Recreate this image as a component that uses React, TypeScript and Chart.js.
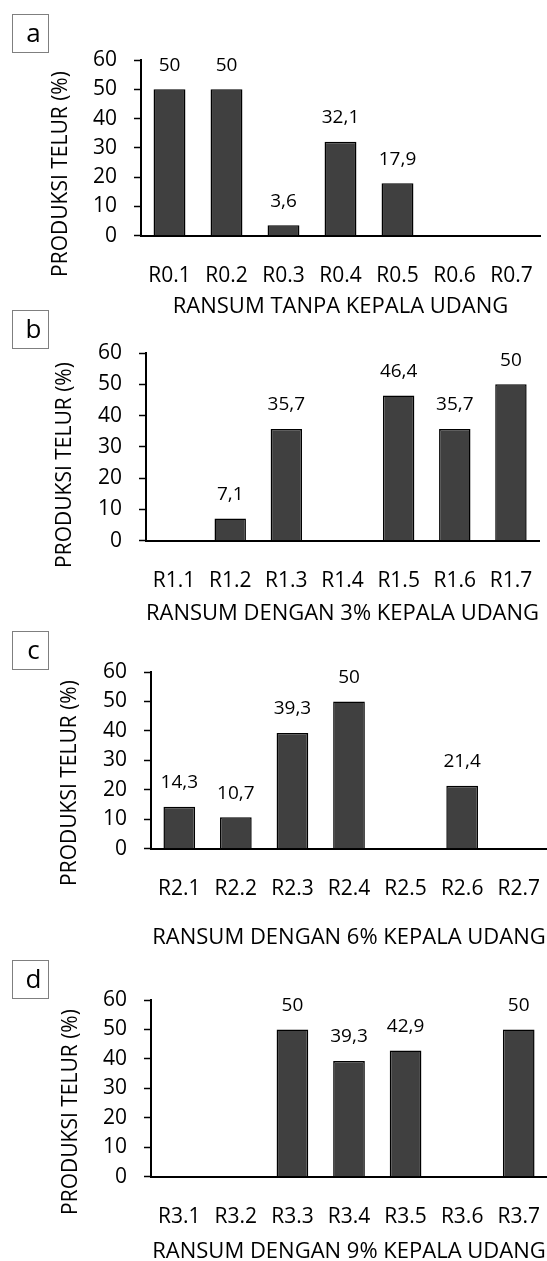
import React, { useEffect, useRef } from "react";
import { Chart, registerables } from "chart.js";

Chart.register(...registerables);

// ---------- data ----------
const categoriesA = ["R0.1", "R0.2", "R0.3", "R0.4", "R0.5", "R0.6", "R0.7"];
const valuesA = [50, 50, 3.6, 32.1, 17.9, 0, 0];

const categoriesB = ["R1.1", "R1.2", "R1.3", "R1.4", "R1.5", "R1.6", "R1.7"];
const valuesB = [0, 7.1, 35.7, 0, 46.4, 35.7, 50];

const categoriesC = ["R2.1", "R2.2", "R2.3", "R2.4", "R2.5", "R2.6", "R2.7"];
const valuesC = [14.3, 10.7, 39.3, 50, 0, 21.4, 0];

const categoriesD = ["R3.1", "R3.2", "R3.3", "R3.4", "R3.5", "R3.6", "R3.7"];
const valuesD = [0, 0, 50, 39.3, 42.9, 0, 50];

const panelLetters = ["a", "b", "c", "d"];
const xTitles = [
  "RANSUM TANPA KEPALA UDANG",
  "RANSUM DENGAN 3% KEPALA UDANG",
  "RANSUM DENGAN 6% KEPALA UDANG",
  "RANSUM DENGAN 9% KEPALA UDANG",
];
const yTitle = "PRODUKSI TELUR (%)";
const yMin = 0;
const yMax = 60;
const yStep = 10;

// ---------- layout (page pixel positions) ----------
type Layout = {
  boxTop: number;
  canvasTop: number;
  axisX: number;
  right: number;
  top: number;
  zero: number;
  labelY: number;
  titleY: number;
  yTitleX: number;
  yTitleY: number;
};

const layouts: Layout[] = [
  { boxTop: 14, canvasTop: 0, axisX: 141, right: 540, top: 60, zero: 235, labelY: 275, titleY: 306, yTitleX: 61, yTitleY: 174 },
  { boxTop: 310, canvasTop: 320, axisX: 146, right: 539, top: 353, zero: 540, labelY: 580, titleY: 613, yTitleX: 65, yTitleY: 465 },
  { boxTop: 631, canvasTop: 640, axisX: 151, right: 547, top: 672, zero: 848, labelY: 888, titleY: 937, yTitleX: 70, yTitleY: 783 },
  { boxTop: 960, canvasTop: 965, axisX: 151, right: 547, top: 1000, zero: 1176, labelY: 1216, titleY: 1251, yTitleX: 71, yTitleY: 1112 },
];

const FONT = "'Open Sans', sans-serif";
const W = 547;
const TICK_SIZE = 21;
const TITLE_SIZE = 22;
const LABEL_SIZE = 19;

function formatValue(v: number): string {
  return String(v).replace(".", ",");
}

const valueLabels = {
  id: "valueLabels",
  afterDatasetsDraw(chart: any) {
    const ctx = chart.ctx;
    const meta = chart.getDatasetMeta(0);
    const data = chart.data.datasets[0].data as number[];
    ctx.save();
    ctx.font = `${LABEL_SIZE}px ${FONT}`;
    ctx.fillStyle = "#000";
    ctx.textAlign = "center";
    ctx.textBaseline = "middle";
    meta.data.forEach((bar: any, i: number) => {
      const v = data[i];
      if (!v) return;
      ctx.fillText(formatValue(v), bar.x, bar.y - 24);
    });
    ctx.restore();
  },
};

function Panel({
  categories,
  values,
  xTitle,
  layout,
}: {
  categories: string[];
  values: number[];
  xTitle: string;
  layout: Layout;
}) {
  const ref = useRef<HTMLCanvasElement>(null);
  const xH = layout.titleY - layout.zero + (TITLE_SIZE * 1.2) / 2;
  const height = Math.ceil(layout.zero - layout.canvasTop + xH);

  useEffect(() => {
    if (!ref.current) return;
    const yTitlePlugin = {
      id: "yTitle",
      afterDraw(chart: any) {
        const ctx = chart.ctx;
        ctx.save();
        ctx.translate(layout.yTitleX, layout.yTitleY - layout.canvasTop);
        ctx.rotate(-Math.PI / 2);
        ctx.font = `${TICK_SIZE}px ${FONT}`;
        ctx.fillStyle = "#000";
        ctx.textAlign = "center";
        ctx.textBaseline = "middle";
        ctx.fillText(yTitle, 0, 0);
        ctx.restore();
      },
    };
    const chart = new Chart(ref.current, {
      type: "bar",
      data: {
        labels: categories,
        datasets: [
          {
            data: values,
            backgroundColor: "#404040",
            borderColor: "#000",
            borderWidth: 1.5,
            barPercentage: 0.56,
            categoryPercentage: 1,
          },
        ],
      },
      options: {
        responsive: false,
        animation: false,
        layout: {
          padding: {
            left: 0,
            right: W - layout.right,
            top: layout.top - layout.canvasTop,
            bottom: 0,
          },
        },
        plugins: {
          legend: { display: false },
          tooltip: { enabled: false },
        },
        scales: {
          x: {
            grid: { display: false, drawTicks: false },
            border: { display: true, color: "#000", width: 2 },
            ticks: {
              font: { family: FONT, size: TICK_SIZE },
              color: "#000",
              padding: layout.labelY - layout.zero - (TICK_SIZE * 1.2) / 2,
              maxRotation: 0,
              autoSkip: false,
            },
            title: {
              display: true,
              text: xTitle,
              font: { family: FONT, size: TITLE_SIZE },
              color: "#000",
              padding: 0,
            },
            afterFit: (s: any) => {
              s.height = xH;
              s.paddingLeft = 0;
              s.paddingRight = 0;
              s.paddingTop = 0;
              s.paddingBottom = 0;
            },
          },
          y: {
            min: yMin,
            max: yMax,
            ticks: {
              stepSize: yStep,
              font: { family: FONT, size: TICK_SIZE },
              color: "#000",
              padding: 17,
            },
            grid: {
              drawOnChartArea: false,
              drawTicks: true,
              tickLength: 7,
              tickColor: "#000",
              tickWidth: 1.5,
            },
            border: { display: true, color: "#000", width: 2 },
            afterFit: (s: any) => {
              s.width = layout.axisX;
              s.paddingTop = 0;
              s.paddingBottom = 0;
              s.paddingLeft = 0;
              s.paddingRight = 0;
            },
          },
        },
      } as any,
      plugins: [valueLabels, yTitlePlugin],
    });
    return () => chart.destroy();
  }, []);

  return (
    <canvas
      ref={ref}
      width={W}
      height={height}
      style={{
        position: "absolute",
        left: 0,
        top: layout.canvasTop,
        width: W,
        height,
      }}
    />
  );
}

export default function App() {
  const cats = [categoriesA, categoriesB, categoriesC, categoriesD];
  const vals = [valuesA, valuesB, valuesC, valuesD];
  return (
    <div
      style={{
        position: "absolute",
        left: 0,
        top: 0,
        width: W,
        height: 1261,
        overflow: "hidden",
        background: "#fff",
      }}
    >
      {layouts.map((l, i) => (
        <React.Fragment key={i}>
          <Panel categories={cats[i]} values={vals[i]} xTitle={xTitles[i]} layout={l} />
          <div
            style={{
              position: "absolute",
              left: 12,
              top: l.boxTop,
              width: 37,
              height: 39,
              boxSizing: "border-box",
              border: "1px solid #7f7f7f",
              paddingLeft: 6,
              fontFamily: FONT,
              fontSize: 26,
              lineHeight: "35px",
              textAlign: "center",
              color: "#000",
            }}
          >
            {panelLetters[i]}
          </div>
        </React.Fragment>
      ))}
    </div>
  );
}
